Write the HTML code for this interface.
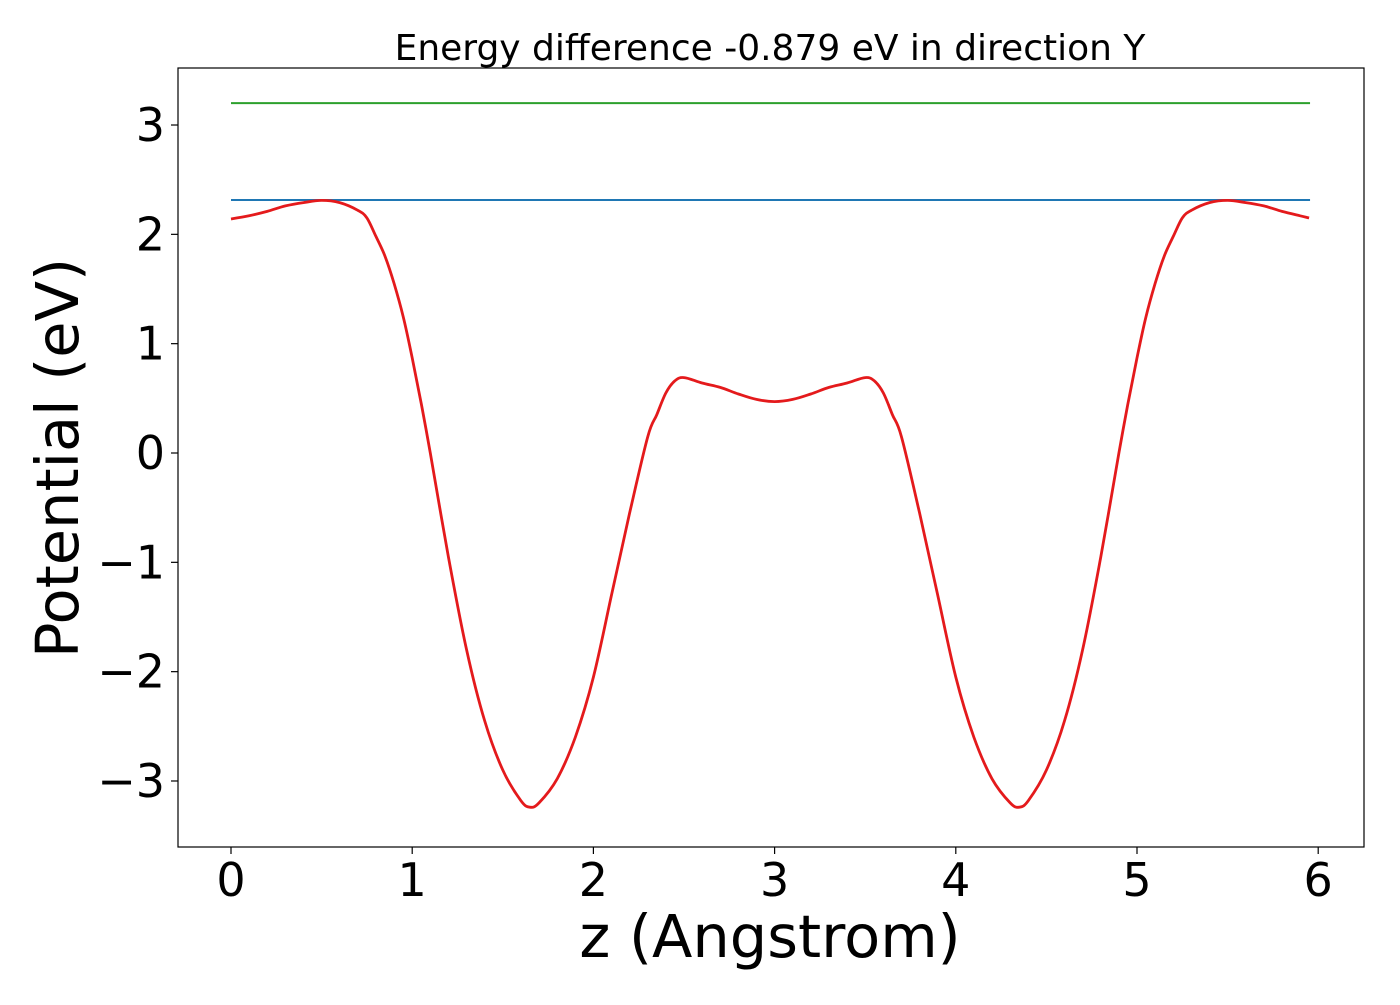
<!DOCTYPE html>
<html><head><meta charset="utf-8"><style>
html,body{margin:0;padding:0;background:#fff;}
svg text{font-family:"DejaVu Sans","Liberation Sans",sans-serif;fill:#000;}
</style></head><body>
<svg id="chart" width="1400" height="1000" xmlns="http://www.w3.org/2000/svg">
<rect width="1400" height="1000" fill="#fff"/>
<text x="770" y="60" font-size="36" text-anchor="middle">Energy difference -0.879 eV in direction Y</text>
<g id="series"></g>
<rect x="178" y="68" width="1186" height="779" fill="none" stroke="#000" stroke-width="1.2"/>
<g id="xticks"></g>
<g id="yticks"></g>
<text x="770" y="957" font-size="59" text-anchor="middle">z (Angstrom)</text>
<text transform="translate(78,458) rotate(-90)" font-size="59" text-anchor="middle">Potential (eV)</text>
</svg>
<script>
const zValues=[0,0.1,0.2,0.3,0.4,0.5,0.6,0.7,0.75,0.8,0.85,0.9,0.95,1.0,1.05,1.1,1.2,1.3,1.4,1.5,1.6,1.65,1.7,1.8,1.9,2.0,2.1,2.2,2.3,2.35,2.4,2.45,2.5,2.6,2.7,2.8,2.9,3.0,3.1,3.2,3.3,3.4,3.5,3.55,3.6,3.65,3.7,3.8,3.9,4.0,4.1,4.2,4.3,4.35,4.4,4.5,4.6,4.7,4.8,4.9,4.95,5.0,5.05,5.1,5.15,5.2,5.25,5.3,5.4,5.5,5.6,5.7,5.8,5.9,5.95];
const potential=[2.14,2.17,2.21,2.26,2.29,2.31,2.29,2.22,2.15,1.98,1.8,1.55,1.25,0.87,0.45,0.0,-0.95,-1.8,-2.45,-2.9,-3.18,-3.24,-3.2,-2.98,-2.6,-2.05,-1.3,-0.55,0.15,0.35,0.55,0.66,0.69,0.64,0.6,0.54,0.49,0.47,0.49,0.54,0.6,0.64,0.69,0.66,0.55,0.35,0.15,-0.55,-1.3,-2.05,-2.6,-2.98,-3.2,-3.24,-3.18,-2.9,-2.45,-1.8,-0.95,0.0,0.45,0.87,1.25,1.55,1.8,1.98,2.15,2.22,2.29,2.31,2.29,2.26,2.21,2.17,2.15];
const levelValues=[2.314,3.2];
const levelNames=['level-blue-line','level-green-line'];
const levelColors=['#1f77b4','#2ca02c'];
const levelRange=[0,5.955];
const xTickLabels=[0,1,2,3,4,5,6];
const yTickLabels=[-3,-2,-1,0,1,2,3];

const NS='http://www.w3.org/2000/svg';
const X=z=>231+z*181.2;
const Y=v=>453-v*109.33;
function mk(tag,attrs,parent){const e=document.createElementNS(NS,tag);for(const k in attrs)e.setAttribute(k,attrs[k]);parent.appendChild(e);return e;}
const series=document.getElementById('series');
levelValues.forEach((v,i)=>{
 const l=mk('line',{x1:X(levelRange[0]),x2:X(levelRange[1]),y1:Y(v),y2:Y(v),stroke:levelColors[i],'stroke-width':2},series);
 
 
});
const P=zValues.map((z,i)=>[X(z),Y(potential[i])]);
let d='M'+P[0][0].toFixed(1)+','+P[0][1].toFixed(1);
for(let i=0;i<P.length-1;i++){
 const p0=P[Math.max(0,i-1)],p1=P[i],p2=P[i+1],p3=P[Math.min(P.length-1,i+2)];
 const c1=[p1[0]+(p2[0]-p0[0])/6,p1[1]+(p2[1]-p0[1])/6];
 const c2=[p2[0]-(p3[0]-p1[0])/6,p2[1]-(p3[1]-p1[1])/6];
 d+=' C'+c1[0].toFixed(1)+','+c1[1].toFixed(1)+' '+c2[0].toFixed(1)+','+c2[1].toFixed(1)+' '+p2[0].toFixed(1)+','+p2[1].toFixed(1);
}
const pl=mk('path',{d:d,fill:'none',stroke:'#e41a1c','stroke-width':2.8,'stroke-linejoin':'round'},series);


const xg=document.getElementById('xticks');
xTickLabels.forEach(t=>{
 const tk=mk('line',{x1:X(t),x2:X(t),y1:847,y2:854,stroke:'#000','stroke-width':1.2},xg);
 
 
 const tx=mk('text',{x:X(t),y:896,'font-size':46,'text-anchor':'middle'},xg);
 tx.textContent=String(t);
 
 
});
const yg=document.getElementById('yticks');
yTickLabels.forEach(t=>{
 const tk=mk('line',{x1:171,x2:178,y1:Y(t),y2:Y(t),stroke:'#000','stroke-width':1.2},yg);
 
 
 const tx=mk('text',{x:165,y:Y(t)+16,'font-size':46,'text-anchor':'end'},yg);
 tx.textContent=t<0?'\u2212'+Math.abs(t):String(t);
 
 
});
</script>
</body></html>
